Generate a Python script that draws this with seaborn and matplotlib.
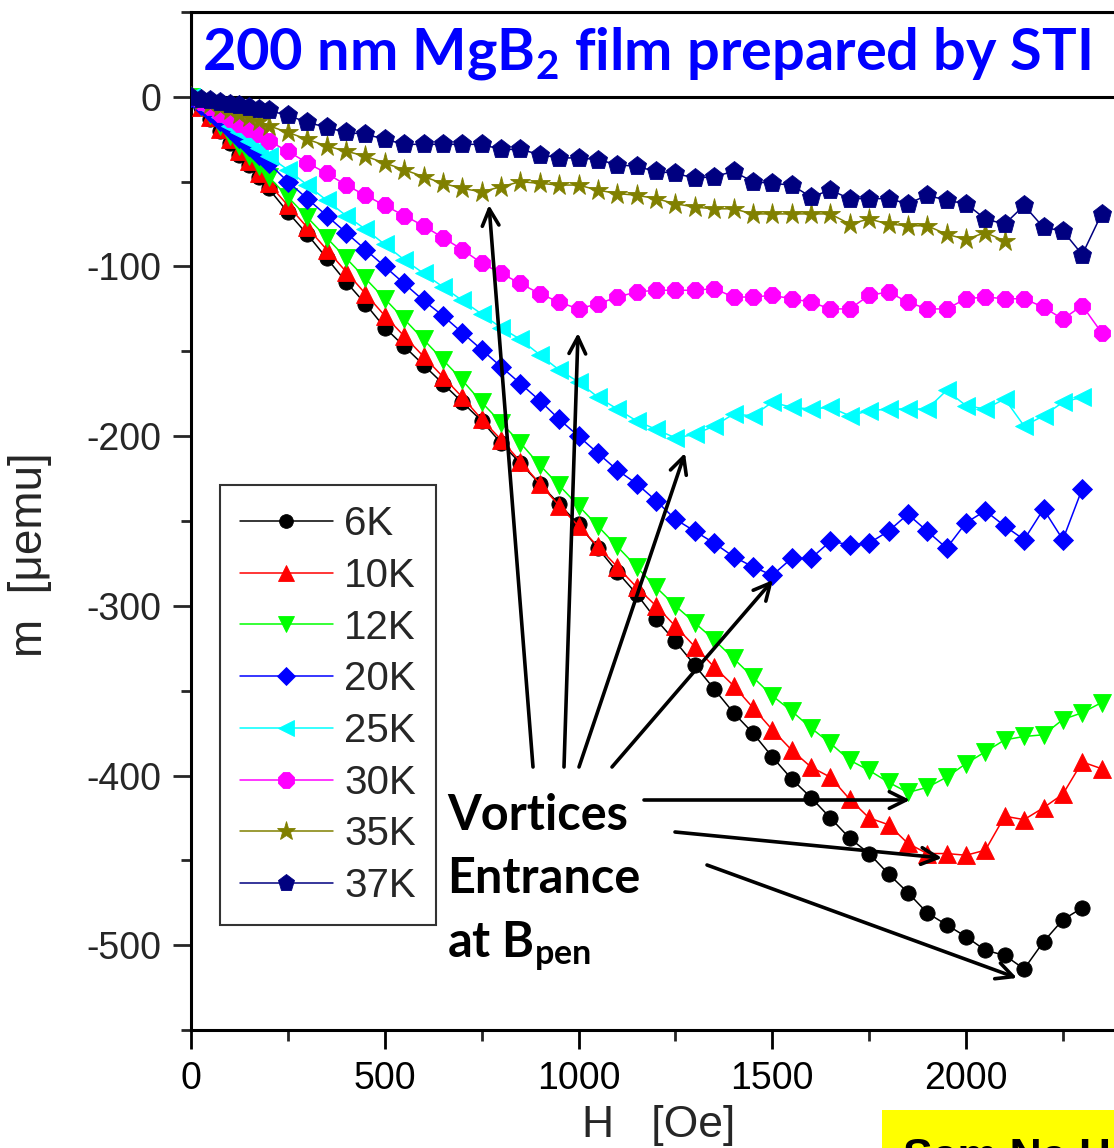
import matplotlib
matplotlib.use("Agg")
import matplotlib.pyplot as plt
from matplotlib.patches import Rectangle
from matplotlib.ticker import MultipleLocator, FixedLocator
import numpy as np
import pandas as pd
import seaborn as sns

# ---------------------------------------------------------------- data
# Field grid: 25 Oe steps up to 200 Oe, then 50 Oe steps
H_LOW = [0, 25, 50, 75, 100, 125, 150, 175, 200]

m_6K = [0, -6, -13, -20, -27, -34, -40, -47, -54,
        -68, -81, -95, -109, -122, -136, -147, -158, -169, -180,
        -191, -204, -216, -228, -240, -252, -266, -280, -293, -308,
        -321, -335, -349, -363, -375, -389, -402, -413, -425, -437,
        -446, -458, -469, -481, -488, -495, -503, -506, -514, -498,
        -485, -478]
m_10K = [0, -6, -12, -19, -25, -32, -38, -45, -51,
         -64, -77, -90, -103, -116, -129, -141, -153, -165, -177,
         -190, -202, -215, -228, -241, -253, -265, -277, -289, -300,
         -312, -324, -336, -347, -360, -373, -385, -395, -401, -414,
         -425, -429, -440, -446, -446, -447, -444, -424, -426, -419,
         -411, -392, -396]
m_12K = [0, -6, -11, -17, -23, -29, -35, -41, -47,
         -59, -71, -83, -95, -107, -119, -131, -143, -155, -167,
         -180, -192, -204, -217, -229, -241, -253, -265, -277, -289,
         -300, -310, -320, -331, -342, -353, -362, -372, -381, -391,
         -397, -404, -410, -407, -401, -393, -386, -379, -377, -376,
         -367, -363, -357]
m_20K = [0, -5, -9, -14, -19, -24, -29, -34, -39,
         -50, -60, -70, -80, -90, -100, -110, -120, -129, -139,
         -149, -159, -169, -179, -190, -200, -210, -220, -228, -238,
         -249, -256, -263, -271, -277, -282, -272, -272, -262, -264,
         -263, -256, -246, -256, -266, -251, -244, -253, -261, -243,
         -261, -231]
m_25K = [0, -4, -8, -12, -17, -21, -26, -30, -35,
         -43, -52, -61, -70, -78, -87, -96, -104, -112, -120,
         -128, -136, -143, -152, -161, -168, -177, -184, -191, -196,
         -201, -199, -194, -187, -188, -180, -183, -184, -183, -188,
         -185, -184, -184, -184, -173, -182, -184, -178, -194, -188,
         -180, -177]
m_30K = [0, -3, -6, -10, -13, -16, -19, -22, -26,
         -32, -39, -45, -52, -58, -64, -70, -76, -83, -90,
         -98, -104, -110, -116, -121, -125, -122, -118, -115, -114,
         -114, -114, -113, -118, -118, -117, -119, -121, -125, -125,
         -117, -115, -121, -125, -125, -119, -118, -119, -119, -124,
         -131, -123, -139]
m_35K = [0, -2, -4, -6, -8, -10, -12, -14, -17,
         -21, -25, -29, -32, -35, -39, -43, -47, -51, -54,
         -56, -53, -50, -51, -52, -52, -55, -57, -58, -60,
         -63, -65, -66, -66, -69, -69, -69, -69, -69, -75,
         -72, -75, -76, -76, -81, -84, -80, -85]
m_37K = [0, -1, -2, -3, -4, -5, -6, -7, -8,
         -11, -15, -18, -21, -22, -25, -28, -28, -28, -28,
         -28, -31, -31, -34, -36, -36, -37, -40, -41, -44,
         -45, -48, -47, -44, -50, -51, -52, -59, -55, -60,
         -60, -60, -63, -58, -61, -63, -72, -75, -64, -77,
         -79, -93, -69]

labels = ["6K", "10K", "12K", "20K", "25K", "30K", "35K", "37K"]
moments = [m_6K, m_10K, m_12K, m_20K, m_25K, m_30K, m_35K, m_37K]
x_tick_values = [0, 500, 1000, 1500, 2000]

# ---------------------------------------------------------------- style
sns.set_style("ticks")
plt.rcParams["font.family"] = ["Liberation Sans", "DejaVu Sans"]
plt.rcParams["axes.unicode_minus"] = False
plt.rcParams["mathtext.fontset"] = "custom"
plt.rcParams["mathtext.rm"] = "Lato:bold"
plt.rcParams["mathtext.it"] = "Lato:bold"
plt.rcParams["mathtext.bf"] = "Lato:bold"

colors = ["#000000", "#FF0000", "#00FF00", "#0000FF",
          "#00FFFF", "#FF00FF", "#808000", "#000080"]
markers = ["o", "^", "v", "D", "<", "8", "*", "p"]
msizes = [11, 13.5, 13.5, 10.5, 13.5, 13, 15.5, 14]

W, HP = 1114, 1148
fig = plt.figure(figsize=(W / 100, HP / 100), dpi=100)

XMAX = 2500
px_per_oe = 0.3875
ax = fig.add_axes([191 / W, (HP - 1030) / HP, XMAX * px_per_oe / W, 1018 / HP])

for lab, m, c, mk, ms in zip(labels, moments, colors, markers, msizes):
    n_high = len(m) - len(H_LOW)
    H = H_LOW + list(range(250, 250 + 50 * n_high, 50))
    df = pd.DataFrame({"H": H, "m": m})
    sns.lineplot(data=df, x="H", y="m", ax=ax, color=c, marker=mk,
                 markersize=ms, markeredgecolor=c, markeredgewidth=0.6,
                 linewidth=1.1, label=lab, zorder=3)

ax.set_xlim(0, XMAX)
ax.set_ylim(-550, 50)
ax.xaxis.set_major_locator(FixedLocator(x_tick_values))
ax.xaxis.set_minor_locator(MultipleLocator(250))
ax.yaxis.set_major_locator(MultipleLocator(100))
ax.yaxis.set_minor_locator(MultipleLocator(50))
ax.tick_params(axis="x", which="major", direction="out", length=14, width=2,
               labelsize=27, pad=8, colors="black")
ax.tick_params(axis="x", which="minor", direction="out", length=8, width=2)
ax.tick_params(axis="y", which="major", direction="out", length=13, width=2,
               labelsize=27, pad=8)
ax.tick_params(axis="y", which="minor", direction="out", length=7, width=2)
for s in ax.spines.values():
    s.set_linewidth(2.2)
    s.set_color("black")
ax.set_xlabel("")
ax.set_ylabel("")

# title box along the top of the axes
ax.add_patch(Rectangle((0, 0), XMAX, 50, facecolor="white", edgecolor="black",
                       linewidth=2.2, zorder=1.5))

def fx(x):
    return x / W

def fy(y):
    return 1 - y / HP

fig.text(fx(202), fy(69), "200 nm MgB$_2$ film prepared by STI",
         fontsize=41.6, family="Lato", weight="bold", color="#0000FF",
         va="baseline", ha="left", zorder=10)

# axis labels
fig.text(fx(659), fy(1137), "H   [Oe]", fontsize=32, ha="center",
         va="baseline")
fig.text(fx(30), fy(555), "m  [\u03bcemu]", fontsize=33, rotation=90,
         ha="center", va="center")

# legend
leg = ax.legend(loc="upper left", bbox_to_anchor=(fx(220), fy(485)),
                bbox_transform=fig.transFigure, fontsize=29,
                handlelength=2.3, handletextpad=0.28, labelspacing=0.34,
                borderpad=0.5, borderaxespad=0, fancybox=False, framealpha=1,
                edgecolor="#333333", markerscale=0.9)
leg.get_frame().set_linewidth(1.5)

# annotation text
for txt, yb in [("Vortices", 830), ("Entrance", 893), ("at B$_{pen}$", 958)]:
    fig.text(fx(447), fy(yb), txt, fontsize=35, family="Lato", weight="bold",
             color="black", va="baseline", ha="left")

arrows = [((533, 767), (489, 205)),
          ((564, 767), (578, 333)),
          ((579, 767), (685, 453)),
          ((612, 767), (773, 580)),
          ((644, 800), (910, 800)),
          ((675, 832), (942, 858)),
          ((707, 865), (1017, 978))]
for (tx, ty), (hx, hy) in arrows:
    ax.annotate("", xy=(hx, HP - hy), xycoords="figure pixels",
                xytext=(tx, HP - ty), textcoords="figure pixels",
                arrowprops=dict(arrowstyle="->", lw=2.6, color="black",
                                mutation_scale=30, shrinkA=0, shrinkB=0),
                zorder=6)

# yellow name tag at the bottom right
fig.patches.append(Rectangle((fx(882), 0), 1 - fx(882), (HP - 1110) / HP,
                             transform=fig.transFigure, facecolor="#FFFF00",
                             edgecolor="none", zorder=0))
fig.text(fx(903), fy(1170), "Sam Na H", fontsize=32, weight="bold",
         color="black", va="baseline", ha="left")

fig.savefig("out.png", dpi=100)
